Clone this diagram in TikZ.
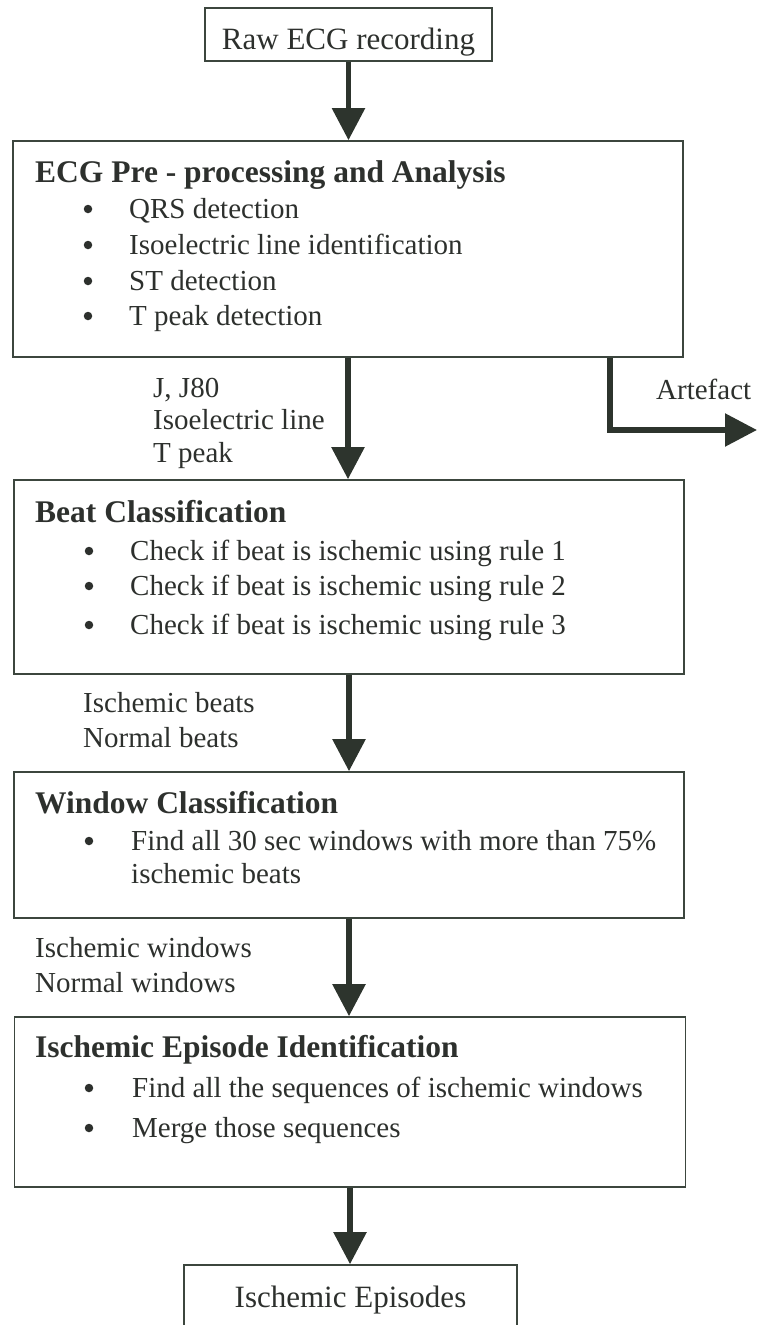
\documentclass[tikz,border=0pt]{standalone}
\usepackage{fontspec}
\setmainfont{Liberation Serif}
\usetikzlibrary{arrows.meta,calc}
\definecolor{txt}{RGB}{45,48,45}
\definecolor{boxline}{RGB}{60,70,62}
\definecolor{arrcol}{RGB}{45,52,45}
\tikzset{
  box/.style={draw=boxline, line width=1.6pt, rectangle, inner sep=0pt},
  arr/.style={draw=arrcol, line width=5.5pt, -{Triangle[length=32pt,width=32pt]}},
  body/.style={anchor=base west, inner sep=0pt, text=txt, font=\fontsize{29}{34}\selectfont},
  big/.style={anchor=base, inner sep=0pt, text=txt, font=\fontsize{31}{36}\selectfont},
  ttl/.style={anchor=base west, inner sep=0pt, text=txt, font=\fontsize{31.5}{36}\selectfont\bfseries},
  bul/.style={circle, fill=txt, inner sep=0pt, minimum size=8.5pt},
}
\begin{document}
\begin{tikzpicture}[x=1pt,y=-1pt]
\useasboundingbox (0,0) rectangle (763,1325);
\clip (0,0) rectangle (763,1325);

% boxes
\node[box, minimum width=287pt, minimum height=53pt] (raw) at (348.5,34.5) {};
\node[box, minimum width=670pt, minimum height=216pt] (pre) at (348,249) {};
\node[box, minimum width=670pt, minimum height=194pt] (beat) at (349,577) {};
\node[box, minimum width=670pt, minimum height=146pt] (win) at (349,845) {};
\node[box, minimum width=671pt, minimum height=170pt] (epi) at (350,1102) {};
\node[box, minimum width=333pt, minimum height=90pt] (out) at (350.5,1310) {};

% single texts
\node[big] (rawt) at (348.5,49) {Raw ECG recording};
\node[big] (outt) at (350.5,1307) {Ischemic Episodes};

% pre-processing
\node[ttl] (pret) at (35,182) {ECG Pre - processing and Analysis};
\node[bul] (pb1) at (88,209) {};
\node[body] (p1) at (129,218) {QRS detection};
\node[bul] (pb2) at (88,245) {};
\node[body] (p2) at (129,254) {Isoelectric line identification};
\node[bul] (pb3) at (88,281) {};
\node[body] (p3) at (129,290) {ST detection};
\node[bul] (pb4) at (88,316) {};
\node[body] (p4) at (129,325) {T peak detection};

% labels 1
\node[body] (l1) at (153,397) {J, J80};
\node[body] (l2) at (153,429) {Isoelectric line};
\node[body] (l3) at (153,462) {T peak};

% artefact
\coordinate (artend) at (757,430);
\node[body] (artl) at (656,399) {Artefact};

% beat classification
\node[ttl] (beatt) at (35,522) {Beat Classification};
\node[bul] (bb1) at (89,551) {};
\node[body] (b1) at (130,560) {Check if beat is ischemic using rule 1};
\node[bul] (bb2) at (89,586) {};
\node[body] (b2) at (130,595) {Check if beat is ischemic using rule 2};
\node[bul] (bb3) at (89,625) {};
\node[body] (b3) at (130,634) {Check if beat is ischemic using rule 3};

% labels 2
\node[body] (m1) at (83,712) {Ischemic beats};
\node[body] (m2) at (83,747) {Normal beats};

% window classification
\node[ttl] (wint) at (35,813) {Window Classification};
\node[bul] (wb1) at (89,841) {};
\node[body] (w1) at (131,850) {Find all 30 sec windows with more than 75\%};
\node[body] (w2) at (131,883) {ischemic beats};

% labels 3
\node[body] (n1) at (35,957) {Ischemic windows};
\node[body] (n2) at (35,992) {Normal windows};

% episode identification
\node[ttl] (epit) at (35,1057) {Ischemic Episode Identification};
\node[bul] (eb1) at (89,1088) {};
\node[body] (e1) at (132,1097) {Find all the sequences of ischemic windows};
\node[bul] (eb2) at (89,1128) {};
\node[body] (e2) at (132,1137) {Merge those sequences};

% arrows
\draw[arr] (raw.south) -- (raw.south |- pre.north);
\draw[arr] (pre.south) -- (pre.south |- beat.north);
\draw[arr] ([xshift=262pt]pre.south) |- (artend);
\draw[arr] (beat.south) -- (beat.south |- win.north);
\draw[arr] (win.south) -- (win.south |- epi.north);
\draw[arr] (epi.south) -- (epi.south |- out.north);
\end{tikzpicture}
\end{document}
